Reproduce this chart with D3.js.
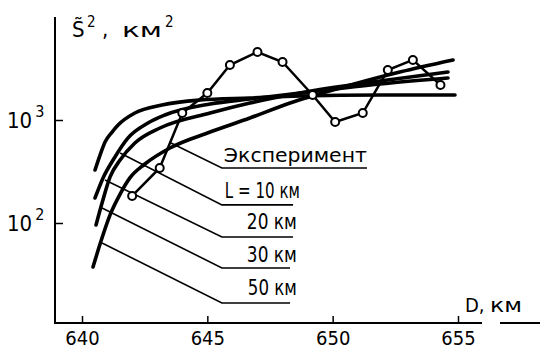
<!DOCTYPE html>
<html>
<head>
<meta charset="utf-8">
<script src="https://cdn.jsdelivr.net/npm/d3@7"></script>
<style>
body { margin: 0; background: #fff; }
svg { display: block; }
text { font-family: "Liberation Sans Narrow", "DejaVu Sans Condensed", "Liberation Sans", sans-serif; fill: #000; }
</style>
</head>
<body>
<svg></svg>
<script>
// experiment, S^2 (km^2) against D (km)
const expD = [642.0, 643.1, 644.0, 645.0, 645.9, 647.0, 648.0, 649.2, 650.1, 651.2, 652.2, 653.2, 654.3];
const expS = [183, 342, 1169, 1829, 3420, 4573, 3656, 1750, 956, 1169, 3054, 3830, 2188];

// model curves
const t1D = [640.52, 640.72, 640.92, 641.20, 641.44, 642.11, 643.19, 644.71, 646.70, 648.70, 651.89, 654.88];
const t1S = [327, 457, 611, 764, 894, 1169, 1399, 1563, 1637, 1711, 1750, 1750];
const t2D = [640.52, 640.84, 641.24, 641.83, 642.63, 643.31, 645.11, 646.70, 648.70, 651.89, 654.60];
const t2S = [175, 274, 409, 668, 935, 1118, 1429, 1600, 1828, 2239, 2560];
const t3D = [640.56, 640.80, 641.12, 641.52, 642.11, 643.11, 645.11, 646.70, 648.70, 651.89, 654.60];
const t3S = [95.7, 156, 280, 409, 598, 836, 1169, 1462, 1828, 2393, 2926];
const t4D = [640.44, 640.72, 641.12, 641.52, 641.91, 642.51, 643.51, 645.11, 646.70, 648.30, 650.29, 652.68, 654.80];
const t4S = [37.4, 62.5, 120, 191, 274, 374, 535, 764, 1045, 1462, 2046, 2926, 3828];

// labels and their leader lines (data units)
const labels = ["Эксперимент", "L = 10 км", "20 км", "30 км", "50 км"];
const leadFromD = [643.55, 641.52, 640.92, 640.80, 640.80];
const leadFromS = [598, 479, 261, 140, 64];
const leadToD = 645.58;
const leadToS = [342, 150, 73.1, 36.6, 16.7];
const underEndD = [651.37, 648.42, 648.42, 648.30, 648.30];

const xTicks = [640, 645, 650, 655];
const yTicks = [100, 1000];
const yTickExp = ["2", "3"];

const width = 549, height = 351;
const svg = d3.select("svg").attr("width", width).attr("height", height);

const x = d3.scaleLinear().domain([640, 655]).range([82, 458]);
const y = d3.scaleLog().domain([10, 10000]).range([326, 17]);
const axisY0 = 323, axisX0 = 55;

// axes
svg.append("line")
	.attr("x1", axisX0).attr("x2", axisX0)
	.attr("y1", 17).attr("y2", axisY0 + 1)
	.attr("stroke", "#000").attr("stroke-width", 2);
[[axisX0, 482], [500, 540]].forEach(s => {
	svg.append("line")
		.attr("x1", s[0]).attr("x2", s[1])
		.attr("y1", axisY0).attr("y2", axisY0)
		.attr("stroke", "#000").attr("stroke-width", 2);
});

const gx = svg.append("g")
	.attr("transform", `translate(0,${axisY0})`)
	.call(d3.axisBottom(x).tickValues(xTicks).tickSize(-7).tickSizeOuter(0).tickPadding(8).tickFormat(d3.format("d")));
gx.select(".domain").remove();
gx.selectAll("line").attr("stroke-width", 1.5);
gx.attr("font-family", null).attr("font-size", 20);

const gy = svg.append("g")
	.attr("transform", `translate(${axisX0},0)`)
	.call(d3.axisLeft(y).tickValues(yTicks).tickSize(-8).tickSizeOuter(0).tickFormat(""));
gy.select(".domain").remove();
gy.selectAll("line").attr("stroke-width", 1.5);

yTicks.forEach((v, i) => {
	const t = svg.append("text").attr("x", 7).attr("y", y(v) + 8).attr("font-size", 22).text("10");
	t.append("tspan").attr("dx", 3).attr("dy", -11).attr("font-size", 16).text(yTickExp[i]);
});

// axis titles
const yt = svg.append("text").attr("y", 37).attr("font-size", 22);
yt.append("tspan").attr("x", 72).text("S\u0303");
yt.append("tspan").attr("x", 87).attr("dy", -10).attr("font-size", 15).text("2");
yt.append("tspan").attr("x", 102).attr("dy", 10).text(",");
yt.append("tspan").attr("x", 122).attr("font-size", 20).attr("textLength", 40).attr("lengthAdjust", "spacingAndGlyphs").text("км");
yt.append("tspan").attr("x", 165).attr("dy", -10).attr("font-size", 15).text("2");

const xt = svg.append("text").attr("y", 312).attr("font-size", 20);
xt.append("tspan").attr("x", 465).text("D,");
xt.append("tspan").attr("x", 490).attr("textLength", 32).attr("lengthAdjust", "spacingAndGlyphs").text("км");

// model curves
const curveLine = d3.line().x(d => x(d[0])).y(d => y(d[1])).curve(d3.curveMonotoneX);
[[t1D, t1S], [t2D, t2S], [t3D, t3S], [t4D, t4S]].forEach(c => {
	svg.append("path")
		.datum(c[0].map((d, i) => [d, c[1][i]]))
		.attr("d", curveLine)
		.attr("fill", "none")
		.attr("stroke", "#000")
		.attr("stroke-width", 3.6)
		.attr("stroke-linecap", "round");
});

// leaders and labels
const labelDx = [2, 3, 25, 25, 26];
const labelDy = [-6, -7, -8, -6, -8];
const labelLen = [143, 75, 50, 50, 49];
labels.forEach((lab, i) => {
	svg.append("polyline")
		.attr("points", [[x(leadFromD[i]), y(leadFromS[i])], [x(leadToD), y(leadToS[i])], [x(underEndD[i]), y(leadToS[i])]].join(" "))
		.attr("fill", "none")
		.attr("stroke", "#000")
		.attr("stroke-width", 1.6);
	svg.append("text")
		.attr("x", x(leadToD) + labelDx[i])
		.attr("y", y(leadToS[i]) + labelDy[i])
		.attr("font-size", i == 0 ? 19 : 21)
		.attr("textLength", labelLen[i])
		.attr("lengthAdjust", "spacingAndGlyphs")
		.text(lab);
});

// experiment
const expPts = expD.map((d, i) => [d, expS[i]]);
svg.append("path")
	.datum(expPts)
	.attr("d", d3.line().x(d => x(d[0])).y(d => y(d[1])))
	.attr("fill", "none")
	.attr("stroke", "#000")
	.attr("stroke-width", 2.5);
svg.append("g")
	.selectAll("circle")
	.data(expPts)
	.enter().append("circle")
		.attr("cx", d => x(d[0]))
		.attr("cy", d => y(d[1]))
		.attr("r", 4)
		.attr("fill", "#fff")
		.attr("stroke", "#000")
		.attr("stroke-width", 2);
</script>
</body>
</html>
